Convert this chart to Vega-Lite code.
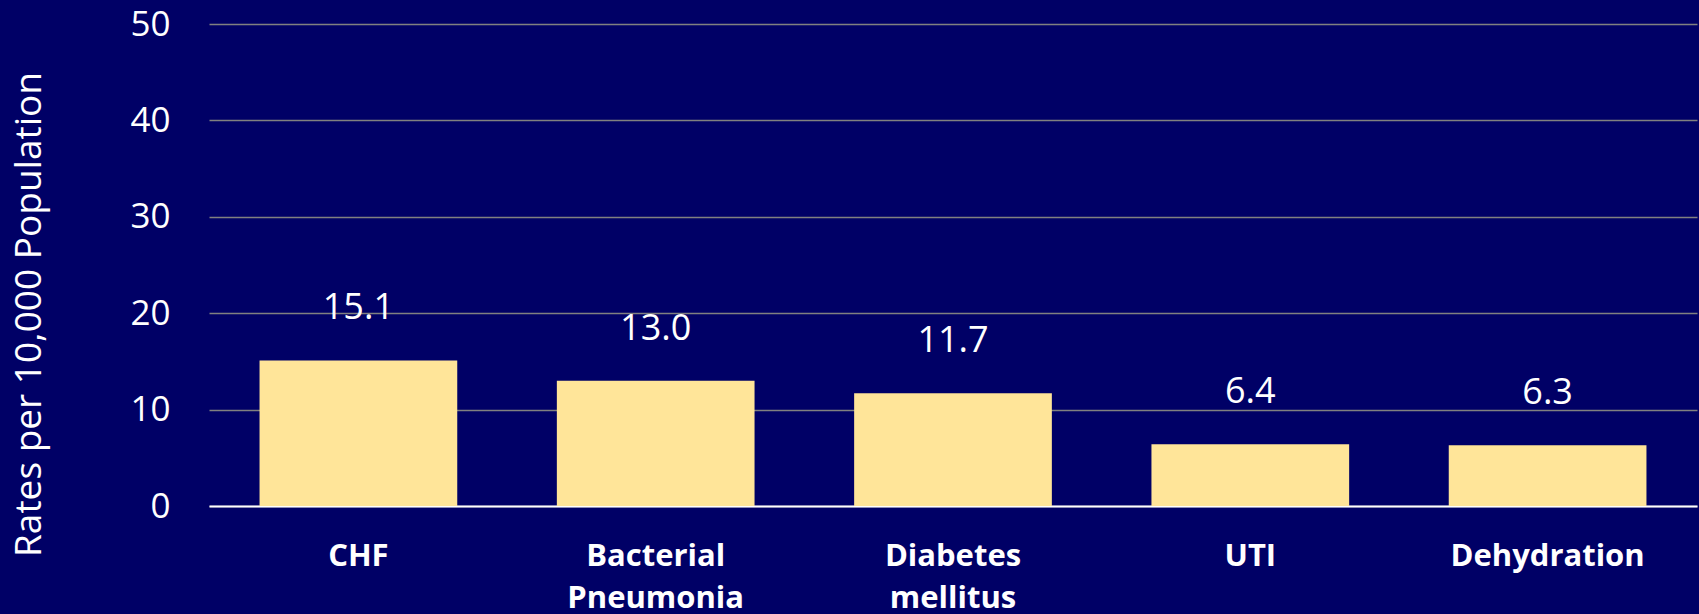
{
  "$schema": "https://vega.github.io/schema/vega-lite/v6.json",
  "autosize": {"type": "none"},
  "width": 1488,
  "height": 482,
  "padding": {"left": 209, "top": 24, "right": 2, "bottom": 108},
  "background": "#000066",
  "config": {
    "view": {"stroke": null},
    "font": "Open Sans"
  },
  "data": {
    "values": [
      {"condition": "CHF", "rate": 15.1},
      {"condition": "Bacterial Pneumonia", "rate": 13.0},
      {"condition": "Diabetes mellitus", "rate": 11.7},
      {"condition": "UTI", "rate": 6.4},
      {"condition": "Dehydration", "rate": 6.3}
    ]
  },
  "encoding": {
    "x": {
      "field": "condition",
      "type": "nominal",
      "sort": null,
      "scale": {"paddingInner": 0.335, "paddingOuter": 0.17},
      "axis": {
        "title": null,
        "labelAngle": 0,
        "labelExpr": "split(datum.label, ' ')",
        "labelFont": "Open Sans",
        "labelFontWeight": "bold",
        "labelFontSize": 31,
        "labelLineHeight": 42,
        "labelLimit": 0,
        "labelColor": "#FFFFFF",
        "labelBaseline": "top",
        "labelPadding": 35,
        "ticks": false,
        "domain": true,
        "domainColor": "#FFFFFF",
        "domainWidth": 2,
        "grid": false
      }
    }
  },
  "layer": [
    {
      "mark": {"type": "bar", "color": "#FFE599"},
      "encoding": {
        "y": {
          "field": "rate",
          "type": "quantitative",
          "scale": {"domain": [0, 50]},
          "axis": {
            "values": [0, 10, 20, 30, 40, 50],
            "title": "Rates per 10,000 Population",
            "titleFont": "Open Sans",
            "titleFontWeight": "normal",
            "titleFontSize": 37,
            "titleColor": "#FFFFFF",
            "titleAngle": -90,
            "titleAlign": "center",
            "titleBaseline": "middle",
            "titleX": -180,
            "titleY": 290,
            "titleLimit": 0,
            "labelFont": "Open Sans",
            "labelFontSize": 35,
            "labelColor": "#FFFFFF",
            "labelPadding": 39,
            "ticks": false,
            "domain": false,
            "grid": true,
            "gridColor": "#808080",
            "gridWidth": 1.5
          }
        }
      }
    },
    {
      "mark": {"type": "text", "color": "#FFFFFF", "fontSize": 36, "baseline": "alphabetic", "dy": -41, "font": "Open Sans"},
      "encoding": {
        "y": {"field": "rate", "type": "quantitative"},
        "text": {"field": "rate", "type": "quantitative", "format": ".1f"}
      }
    }
  ]
}
